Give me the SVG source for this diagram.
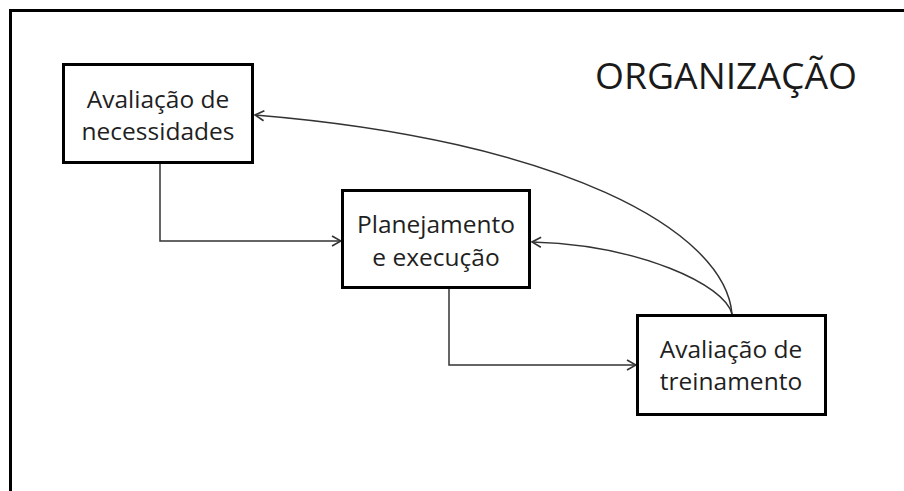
<svg xmlns="http://www.w3.org/2000/svg" width="904" height="491" viewBox="0 0 904 491">
<defs>
<style>
.box{fill:#fff;stroke:#000;stroke-width:3}
.lbl{font-family:"Open Sans","Liberation Sans",sans-serif;font-size:24.5px;fill:#1f1f1f;text-anchor:middle}
.title{font-family:"Open Sans","Liberation Sans",sans-serif;font-size:37px;fill:#1a1a1a;text-anchor:middle}
.con{fill:none;stroke:#333;stroke-width:1.5}
</style>
<marker id="arr" viewBox="0 0 12 12" refX="11" refY="6" markerWidth="12" markerHeight="12" markerUnits="userSpaceOnUse" orient="auto">
<path d="M2,1 L11,6 L2,11" fill="none" stroke="#333" stroke-width="1.6"/>
</marker>
</defs>
<rect width="904" height="491" fill="#fff"/>
<path d="M10.5,500 V10.5 H910" fill="none" stroke="#000" stroke-width="3"/>
<text class="title" x="726" y="89" textLength="262" lengthAdjust="spacingAndGlyphs">ORGANIZAÇÃO</text>
<g id="connectors">
<path class="con" d="M160,163 V241 H341" marker-end="url(#arr)"/>
<path class="con" d="M449,288 V365 H636" marker-end="url(#arr)"/>
<path class="con" d="M732,314 C725,285 640,245 532,242" marker-end="url(#arr)"/>
<path class="con" d="M732,314 C725,230 560,140 255,115" marker-end="url(#arr)"/>
</g>
<g id="node-necessidades">
<rect class="box" x="63.5" y="64.5" width="189" height="98"/>
<text class="lbl" x="158" y="108">Avaliação de</text>
<text class="lbl" x="158" y="140">necessidades</text>
</g>
<g id="node-planejamento">
<rect class="box" x="342.5" y="190.5" width="187" height="97"/>
<text class="lbl" x="436" y="233">Planejamento</text>
<text class="lbl" x="436" y="266">e execução</text>
</g>
<g id="node-treinamento">
<rect class="box" x="637.5" y="315.5" width="188" height="99"/>
<text class="lbl" x="731" y="358">Avaliação de</text>
<text class="lbl" x="731" y="390">treinamento</text>
</g>
</svg>
